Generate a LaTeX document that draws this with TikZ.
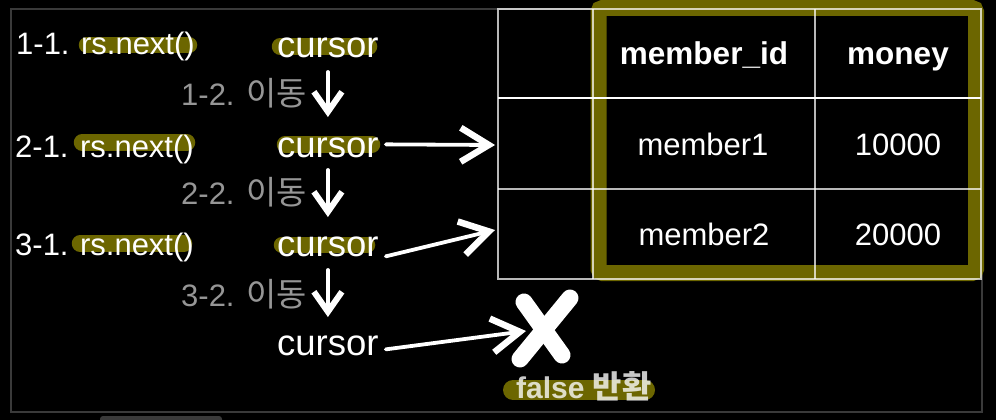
\documentclass[tikz,border=0pt]{standalone}
\usepackage{fontspec}
\setmainfont{Liberation Sans}
\newfontfamily\kr[Scale=1.06]{Noto Sans CJK KR}
\usetikzlibrary{arrows.meta}
\definecolor{olivehl}{RGB}{108,102,0}
\definecolor{framegray}{RGB}{58,58,58}
\definecolor{labelgray}{RGB}{150,150,150}
\begin{document}
\begin{tikzpicture}[x=1pt,y=-1pt,
  txt/.style={inner sep=0pt, anchor=base west, text=white, font=\fontsize{31}{37}\selectfont},
  curs/.style={txt, font=\fontsize{36.5}{43}\selectfont},
  lbl/.style={txt, text=labelgray},
  cell/.style={inner sep=0pt, anchor=base, text=white, font=\fontsize{31}{37}\selectfont},
  head/.style={cell, font=\fontsize{31.5}{37}\selectfont\bfseries},
  pill/.style={draw=olivehl, line width=16.5pt, line cap=round},
  chalk/.style={draw=white, line width=3.8pt, line cap=round},
  darr/.style={chalk, -{Straight Barb[length=20pt,width=28pt,line width=6pt]}},
  rarr/.style={chalk, -{Straight Barb[length=28pt,width=34pt,line width=6.5pt]}},
  gridline/.style={draw=white, draw opacity=0.72, line width=1.2pt},
  xstroke/.style={draw=white, line width=17pt, line cap=round}
]
\fill[black] (0,0) rectangle (996,420);
\path[use as bounding box] (0,0) rectangle (996,420);

% outer frame
\draw[framegray, line width=2pt] (11,9) rectangle (982,412);
\fill[framegray, rounded corners=3pt] (100,416) rectangle (222,426);

% highlighter pills
\draw[pill] (87,45) -- (189,45);
\draw[pill] (280,46.5) -- (369,46.5);
\draw[pill] (82,142.5) -- (187,142.5);
\draw[pill] (285,144.5) -- (372,144.5);
\draw[pill] (80,243.5) -- (184,243.5);
\draw[pill] (282,245) -- (367,245);
\draw[pill, line width=20pt] (513,390) -- (645,390);

% left texts
\node[txt] (n1) at (16,55) {1-1. rs.next()};
\node[curs] (c1) at (277,58) {cursor};
\node[lbl] (l1) at (181,106) {1-2. {\kr 이동}};
\node[txt] (n2) at (15,157) {2-1. rs.next()};
\node[curs] (c2) at (277,157) {cursor};
\node[lbl] (l2) at (181,204) {2-2. {\kr 이동}};
\node[txt] (n3) at (15,255) {3-1. rs.next()};
\node[curs] (c3) at (277,256) {cursor};
\node[lbl] (l3) at (181,306) {3-2. {\kr 이동}};
\node[curs] (c4) at (277,355) {cursor};

% olive frame around data columns
\draw[olivehl, line width=16pt, rounded corners=4pt] (598.5,8) rectangle (976,273);

% table grid
\draw[gridline] (498,9) rectangle (981,279);
\draw[gridline] (498,189) -- (981,189);
\draw[gridline] (593,9) -- (593,279);
\draw[gridline] (815,9) -- (815,279);
\draw[draw=white, line width=2pt] (498,98) -- (981,98);

% table texts
\node[head] (h1) at (704,65) {member\_id};
\node[head] (h2) at (898,65) {money};
\node[cell] (m1) at (703,155) {member1};
\node[cell] (v1) at (898,155) {10000};
\node[cell] (m2) at (704,245) {member2};
\node[cell] (v2) at (898,245) {20000};

\coordinate (t1) at (495,145);
\coordinate (t2) at (495,230);
\coordinate (t3) at (526,331);

% down arrows
\draw[darr] ([yshift=-14pt]c1.base) -- ([yshift=40pt]c2.base);
\draw[darr] ([yshift=-13pt]c2.base) -- ([yshift=39pt]c3.base);
\draw[darr] ([yshift=-14pt]c3.base) -- ([yshift=38pt]c4.base);

% right arrows
\draw[rarr] ([xshift=7pt,yshift=3pt]c2.east) -- (t1);
\draw[rarr] ([xshift=7pt,yshift=-10pt]c3.east) -- (t2);
\draw[rarr] ([xshift=7pt,yshift=-4pt]c4.east) -- (t3);

% X mark
\coordinate (xm) at (544,329);
\draw[xstroke] ([shift={(-20,-27)}]xm) -- ([shift={(18,26)}]xm);
\draw[xstroke] ([shift={(26,-31)}]xm) -- ([shift={(-24,30)}]xm);

\node[txt, text=white, text opacity=0.78, font=\fontsize{30}{36}\selectfont\bfseries] (fr) at (516,398) {false {\kr 반환}};
\end{tikzpicture}
\end{document}
